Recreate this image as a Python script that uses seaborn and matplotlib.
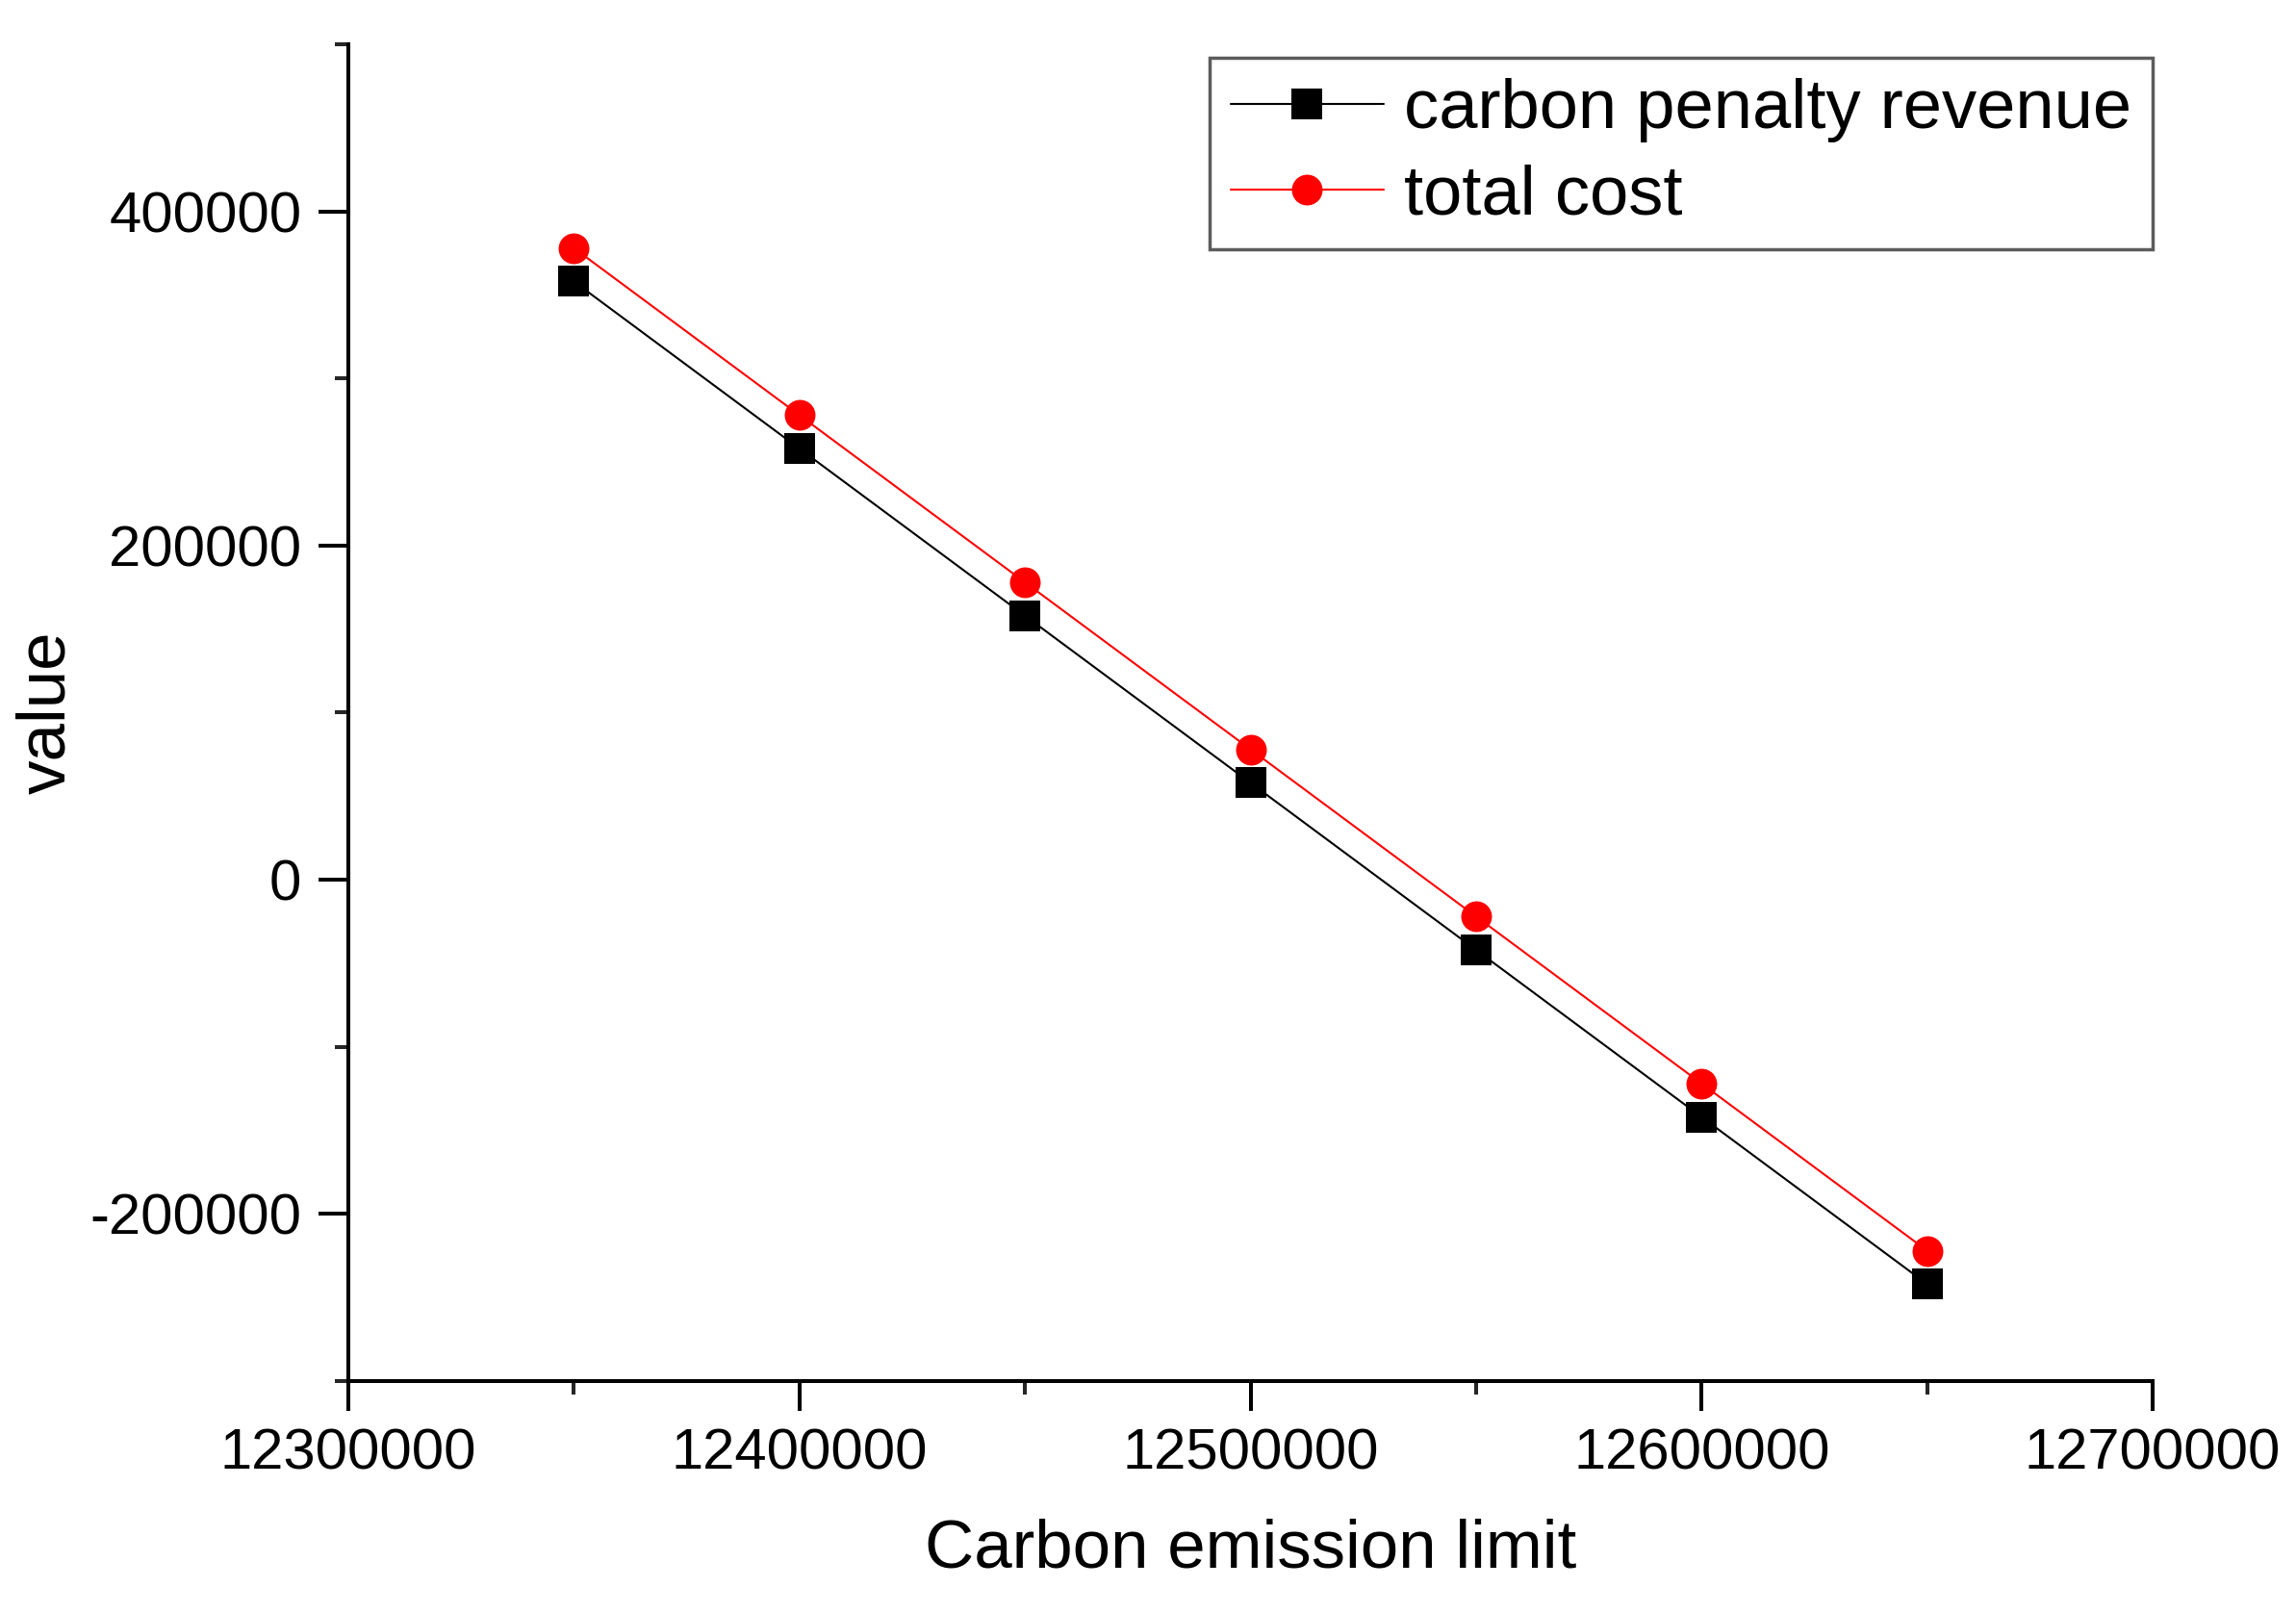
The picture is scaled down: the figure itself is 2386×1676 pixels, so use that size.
import pandas as pd
import numpy as np
import matplotlib
matplotlib.use('Agg')
import matplotlib.pyplot as plt
from matplotlib.ticker import MultipleLocator, FuncFormatter
import seaborn as sns

limits = [12350000, 12400000, 12450000, 12500000, 12550000, 12600000, 12650000]
penalty_revenue = [358000, 258000, 158000, 58000, -42000, -142000, -242000]
total_cost = [378000, 278000, 178000, 78000, -22000, -122000, -222000]
series_names = ['carbon penalty revenue', 'total cost']

df = pd.DataFrame({
    'limit': limits * 2,
    'value': penalty_revenue + total_cost,
    'series': [series_names[0]] * len(limits) + [series_names[1]] * len(limits),
})

sns.set_style('ticks')
plt.rcParams['font.family'] = ['Liberation Sans', 'DejaVu Sans']
plt.rcParams['axes.unicode_minus'] = False
plt.rcParams['text.color'] = 'black'
plt.rcParams['axes.labelcolor'] = 'black'

fig = plt.figure(figsize=(23.86, 16.76), dpi=100)
ax = fig.add_axes([0.1517, 0.1438, 0.7859, 0.8288])

sns.lineplot(data=df, x='limit', y='value', hue='series', style='series',
             palette={series_names[0]: 'black', series_names[1]: '#ff0000'},
             markers={series_names[0]: 's', series_names[1]: 'o'},
             dashes=False, markersize=23, markeredgewidth=0, linewidth=1.5,
             ax=ax)

ax.set_xlim(12300000, 12700000)
ax.set_ylim(-300000, 500000)
ax.xaxis.set_major_locator(MultipleLocator(100000))
ax.xaxis.set_minor_locator(MultipleLocator(50000))
ax.yaxis.set_major_locator(MultipleLocator(200000))
ax.yaxis.set_minor_locator(MultipleLocator(100000))
fmt = FuncFormatter(lambda v, p: f'{int(round(v))}')
ax.xaxis.set_major_formatter(fmt)
ax.yaxis.set_major_formatter(fmt)

for sp in ['top', 'right']:
    ax.spines[sp].set_visible(False)
for sp in ['bottom', 'left']:
    ax.spines[sp].set_linewidth(2.9)
    ax.spines[sp].set_color('black')

ax.tick_params(which='major', length=22, width=2.9, direction='out',
               labelsize=43, pad=13, colors='black')
ax.tick_params(which='minor', length=10, width=2.9, direction='out')

ax.set_xlabel('Carbon emission limit', fontsize=51, labelpad=28)
ax.set_ylabel('value', fontsize=51, labelpad=8)

leg = ax.legend(loc='upper right', bbox_to_anchor=(1.0, 0.99), fontsize=52,
                frameon=True, fancybox=False, edgecolor='#333333',
                handlelength=2.2, handletextpad=0.3, labelspacing=0.3,
                borderpad=0.3, borderaxespad=0)
leg.get_frame().set_linewidth(2.5)
for h in leg.legend_handles:
    h.set_markersize(23)

fig.savefig('out.png', dpi=100, facecolor='white')
